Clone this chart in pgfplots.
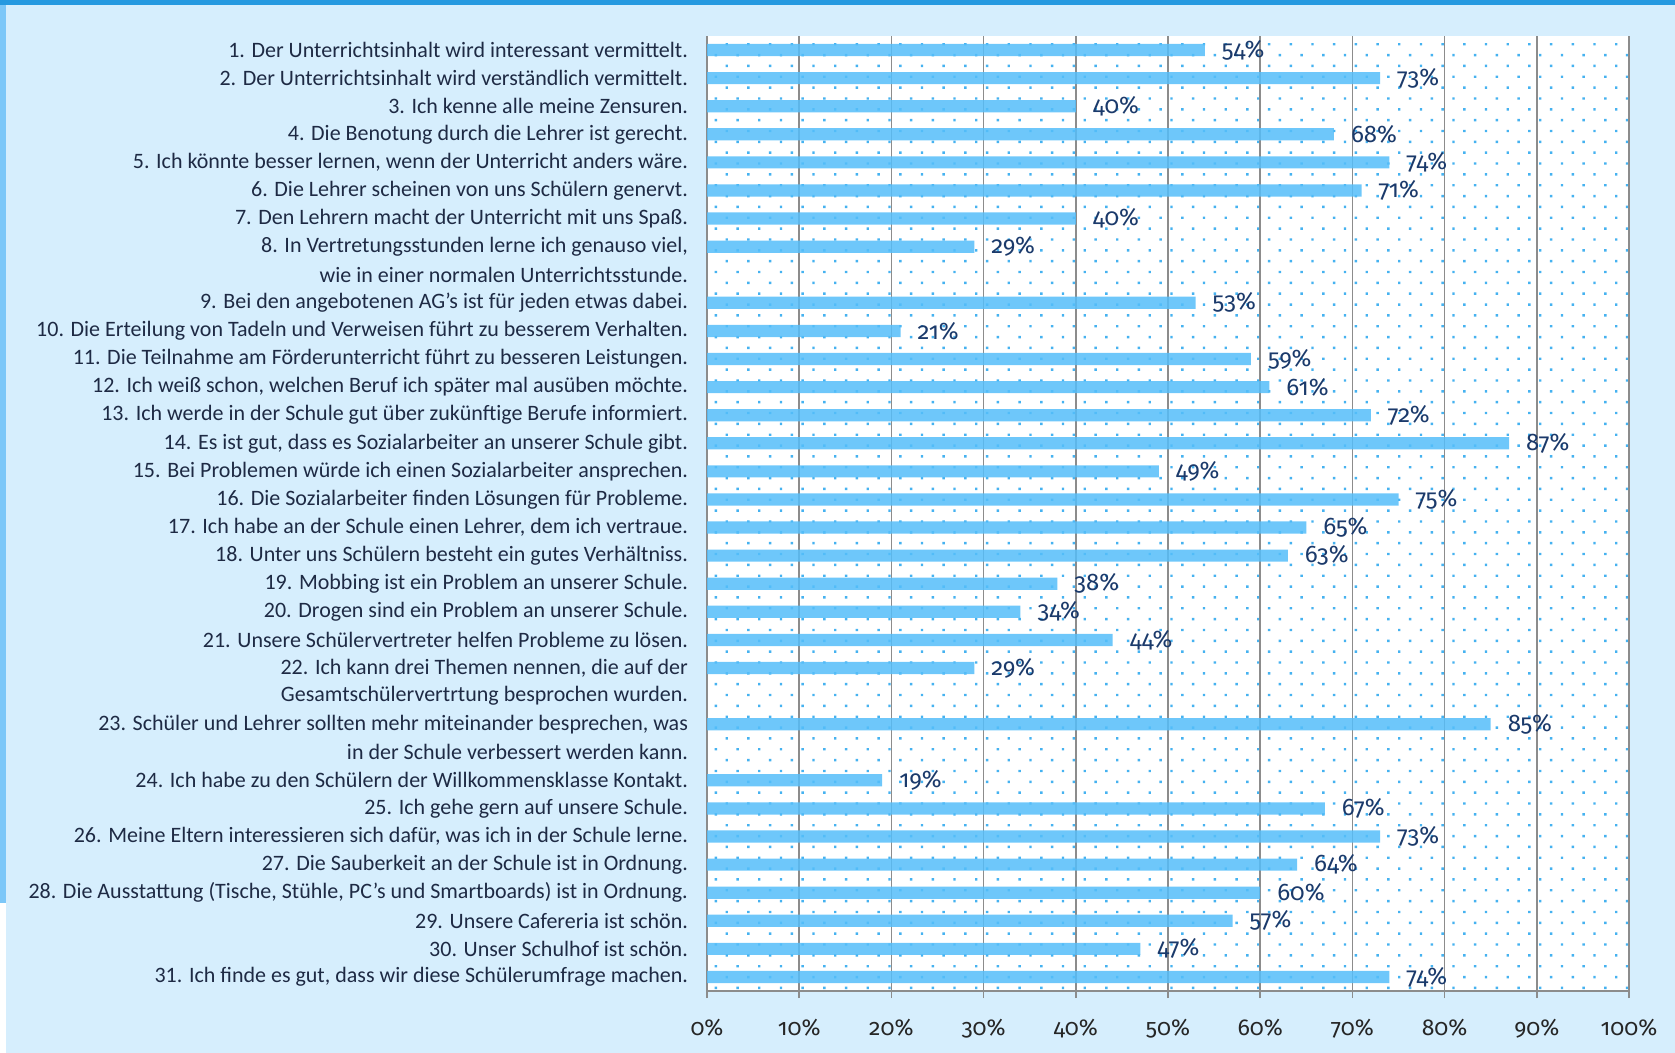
\documentclass[border=0pt]{standalone}
\usepackage{pgfplots}
\pgfplotsset{compat=1.18}
\usetikzlibrary{patterns.meta}
\usepackage{fontspec}
\setmainfont{Carlito}
\newfontfamily\numfont{Fira Sans}[Numbers=OldStyle]
\definecolor{bgcol}{HTML}{D6EEFD}
\definecolor{topcol}{HTML}{2599E0}
\definecolor{leftcol}{HTML}{7CC7F8}
\definecolor{barblue}{HTML}{55BEFA}
\definecolor{dotblue}{HTML}{45B2F0}
\definecolor{gridgray}{HTML}{8C8C8C}
\definecolor{valcol}{HTML}{1B3A6B}
\definecolor{labcol}{HTML}{1E2A44}
\begin{document}
\begin{tikzpicture}[x=1pt,y=1pt]
\useasboundingbox (0,0) rectangle (837.5,526.5);
\fill[bgcol] (0,0) rectangle (837.5,526.5);
\fill[white] (0,0) rectangle (3,75);
\fill[leftcol] (0,75) rectangle (3,526.5);
\fill[topcol] (0,524) rectangle (837.5,526.5);
\begin{axis}[
  at={(353.5pt,31pt)}, anchor=south west,
  scale only axis, width=461pt, height=477.5pt,
  xmin=0, xmax=100, ymin=0, ymax=34, y dir=reverse,
  xbar, bar width=6.1pt,
  axis x line*=bottom, axis y line*=left,
  axis line style={gridgray, line width=0.8pt},
  axis background/.style={fill=white, postaction={pattern={Dots[distance=7.67pt, angle=45, radius=0.85pt]}, pattern color=dotblue}},
  xtick={0,10,...,100},
  xmajorgrids, grid style={gridgray, line width=0.8pt},
  tick align=outside, major tick length=3.5pt, minor tick length=3pt,
  tick style={gridgray, line width=0.8pt},
  /pgf/number format/assume math mode=true,
  xticklabel={\pgfmathprintnumber{\tick}\%},
  xticklabel style={font=\numfont\fontsize{11.5}{13}\selectfont, text=black!85, yshift=-7pt},
  ytick=\empty, minor ytick={0,...,34},
  extra y ticks={0.5,1.5,...,33.5},
  extra y tick style={tick style={draw=none}, yticklabel style={font=\fontsize{11}{12}\selectfont, text=labcol, anchor=east, xshift=-2.5pt}},
  extra y tick labels={
    {1. Der Unterrichtsinhalt wird interessant vermittelt.},
    {2. Der Unterrichtsinhalt wird verständlich vermittelt.},
    {3. Ich kenne alle meine Zensuren.},
    {4. Die Benotung durch die Lehrer ist gerecht.},
    {5. Ich könnte besser lernen, wenn der Unterricht anders wäre.},
    {6. Die Lehrer scheinen von uns Schülern genervt.},
    {7. Den Lehrern macht der Unterricht mit uns Spaß.},
    {8. In Vertretungsstunden lerne ich genauso viel,},
    {wie in einer normalen Unterrichtsstunde.},
    {9. Bei den angebotenen AG’s ist für jeden etwas dabei.},
    {10. Die Erteilung von Tadeln und Verweisen führt zu besserem Verhalten.},
    {11. Die Teilnahme am Förderunterricht führt zu besseren Leistungen.},
    {12. Ich weiß schon, welchen Beruf ich später mal ausüben möchte.},
    {13. Ich werde in der Schule gut über zukünftige Berufe informiert.},
    {14. Es ist gut, dass es Sozialarbeiter an unserer Schule gibt.},
    {15. Bei Problemen würde ich einen Sozialarbeiter ansprechen.},
    {16. Die Sozialarbeiter finden Lösungen für Probleme.},
    {17. Ich habe an der Schule einen Lehrer, dem ich vertraue.},
    {18. Unter uns Schülern besteht ein gutes Verhältniss.},
    {19. Mobbing ist ein Problem an unserer Schule.},
    {20. Drogen sind ein Problem an unserer Schule.},
    {21. Unsere Schülervertreter helfen Probleme zu lösen.},
    {22. Ich kann drei Themen nennen, die auf der},
    {Gesamtschülervertrtung besprochen wurden.},
    {23. Schüler und Lehrer sollten mehr miteinander besprechen, was},
    {in der Schule verbessert werden kann.},
    {24. Ich habe zu den Schülern der Willkommensklasse Kontakt.},
    {25. Ich gehe gern auf unsere Schule.},
    {26. Meine Eltern interessieren sich dafür, was ich in der Schule lerne.},
    {27. Die Sauberkeit an der Schule ist in Ordnung.},
    {28. Die Ausstattung (Tische, Stühle, PC's und Smartboards) ist in Ordnung.},
    {29. Unsere Cafereria ist schön.},
    {30. Unser Schulhof ist schön.},
    {31. Ich finde es gut, dass wir diese Schülerumfrage machen.}
  },
  nodes near coords={\pgfmathprintnumber{\pgfplotspointmeta}\%},
  point meta=x,
  nodes near coords style={anchor=west, xshift=5pt, yshift=0pt, font=\numfont\fontsize{12}{13}\selectfont, text=valcol},
  clip=false,
]
\addplot[fill=barblue, fill opacity=0.85, draw=none, text opacity=1] coordinates {
(54,0.5) (73,1.5) (40,2.5) (68,3.5) (74,4.5) (71,5.5) (40,6.5) (29,7.5)
(53,9.5) (21,10.5) (59,11.5) (61,12.5) (72,13.5) (87,14.5) (49,15.5)
(75,16.5) (65,17.5) (63,18.5) (38,19.5) (34,20.5) (44,21.5) (29,22.5)
(85,24.5) (19,26.5) (67,27.5) (73,28.5) (64,29.5) (60,30.5) (57,31.5)
(47,32.5) (74,33.5)
};
\end{axis}
\end{tikzpicture}
\end{document}
